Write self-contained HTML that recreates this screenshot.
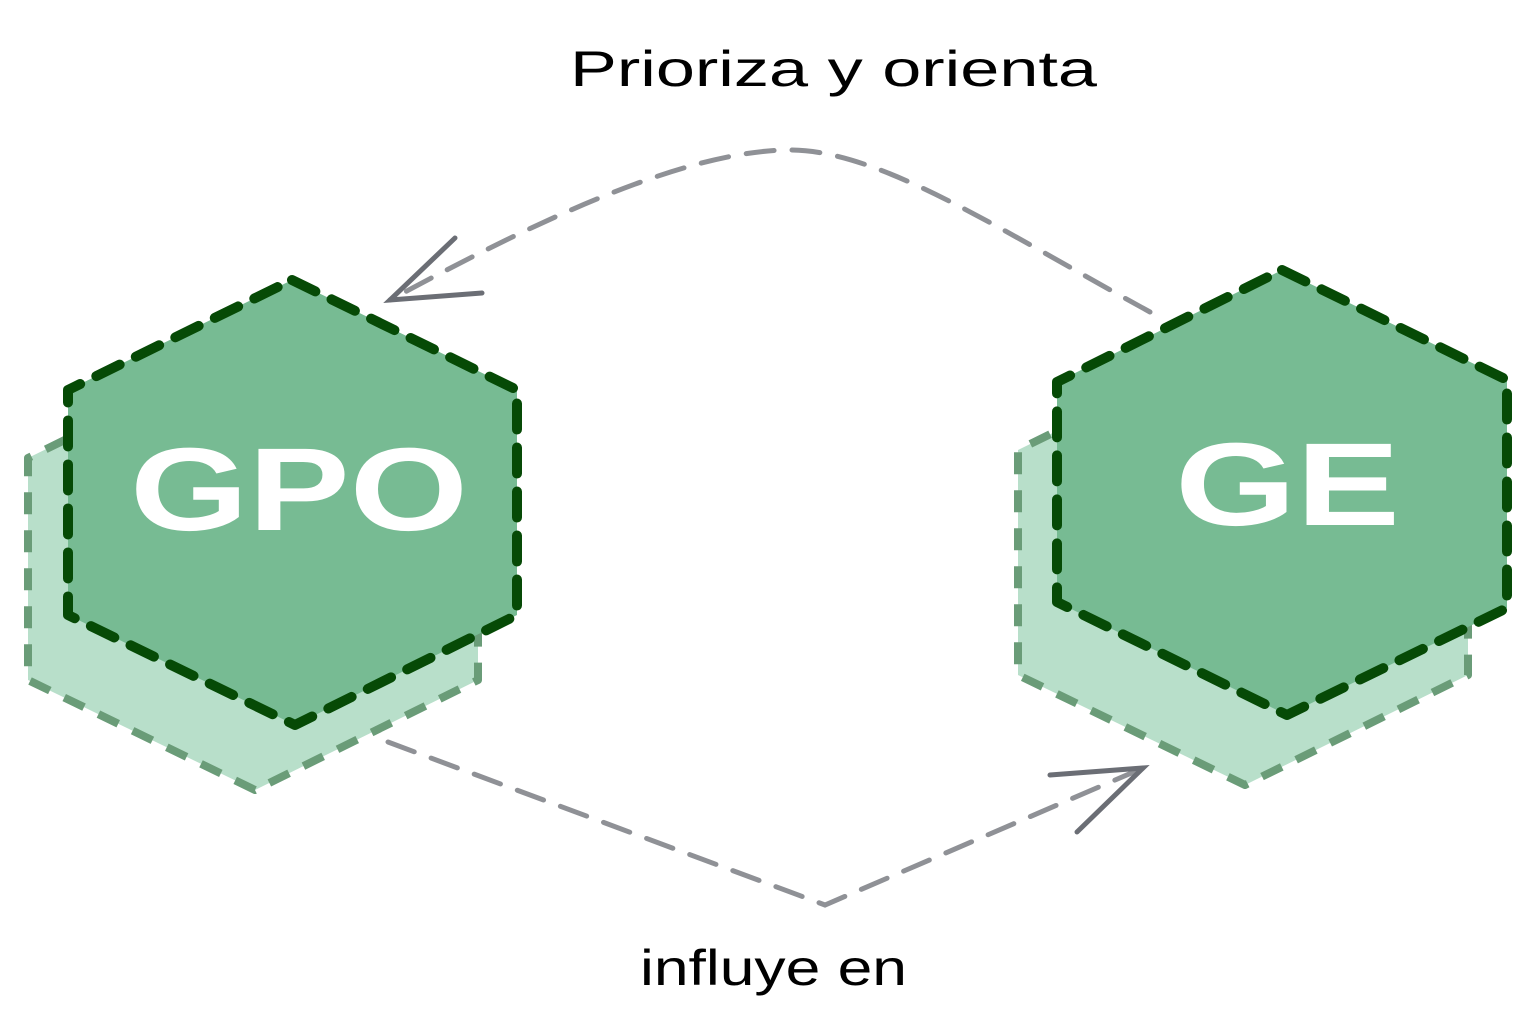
<!DOCTYPE html>
<html><head><meta charset="utf-8"><style>
html,body{margin:0;padding:0;background:#fff;}
svg{display:block;}
text{font-family:"Liberation Sans",sans-serif;}
</style></head><body>
<svg width="1536" height="1035" viewBox="0 0 1536 1035" xmlns="http://www.w3.org/2000/svg">
<polygon points="252,348 478,458 478,680 255,790 28,680 28,458" fill="#b8dfca" stroke="#6a9c78" stroke-width="8" stroke-dasharray="22,16" stroke-linejoin="round"/>
<polygon points="1242,340 1468,450 1468,675 1245,785 1018,675 1018,450" fill="#b8dfca" stroke="#6a9c78" stroke-width="8" stroke-dasharray="22,16" stroke-linejoin="round"/>
<polygon points="292,280 517,390 517,615 295,725 68,615 68,390" fill="#77bb93" stroke="#064a06" stroke-width="10" stroke-dasharray="26,18" stroke-linejoin="round" stroke-linecap="round"/>
<polygon points="1282,270 1507,380 1507,608 1287,715 1057,602 1057,382" fill="#77bb93" stroke="#064a06" stroke-width="10" stroke-dasharray="26,18" stroke-linejoin="round" stroke-linecap="round"/>
<text x="130" y="530" font-size="118" font-weight="bold" fill="#fff" textLength="338" lengthAdjust="spacingAndGlyphs">GPO</text>
<text x="1175" y="525" font-size="118" font-weight="bold" fill="#fff" textLength="225" lengthAdjust="spacingAndGlyphs">GE</text>
<path d="M1150,312 C1000,230 880,150 790,150 C680,150 520,230 390,300" fill="none" stroke="#8f9196" stroke-width="5" stroke-dasharray="28,18" stroke-linecap="round"/>
<path d="M455,238 L390,300 L482,293" fill="none" stroke="#6b6e75" stroke-width="5" stroke-linecap="round"/>
<path d="M388,742 L825,905 L1143,768" fill="none" stroke="#8f9196" stroke-width="5" stroke-dasharray="28,18" stroke-linecap="round"/>
<path d="M1050,775 L1143,768 L1077,832" fill="none" stroke="#6b6e75" stroke-width="5" stroke-linecap="round"/>
<text x="570" y="86" font-size="50" fill="#000" textLength="527" lengthAdjust="spacingAndGlyphs">Prioriza y orienta</text>
<text x="640" y="985" font-size="50" fill="#000" textLength="267" lengthAdjust="spacingAndGlyphs">influye en</text>
</svg>
</body></html>
